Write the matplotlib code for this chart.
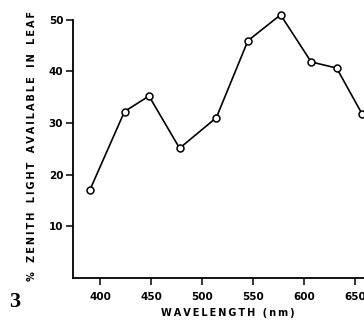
import matplotlib
matplotlib.use("Agg")
import matplotlib.pyplot as plt

wavelength = [390, 424, 448, 478, 514, 545, 577, 607, 632, 657]
zenith_pct = [17.0, 32.2, 35.2, 25.1, 31.0, 45.9, 50.9, 41.8, 40.6, 31.7]
x_ticks = [400, 450, 500, 550, 600, 650]
y_ticks = [10, 20, 30, 40, 50]
x_title = "WAVELENGTH (nm)"
y_title = "% ZENITH LIGHT AVAILABLE IN LEAF"


def spaced(s, gap=""):
    return "\u2009".join(s).replace(" ", " " + gap)


fig = plt.figure(figsize=(3.64, 3.2), dpi=100)
ax = fig.add_axes([73/364, 1-278/320, 1-73/364, (278-19.5)/320])
ax.plot(wavelength, zenith_pct, color="black", lw=1.2, marker="o", ms=5,
        mfc="white", mec="black", mew=1.1, clip_on=False, zorder=3)
ax.set_xlim(373.5, 658.8)
ax.set_ylim(0, 50)
ax.set_xticks(x_ticks)
ax.set_yticks(y_ticks)
ax.set_xticklabels([str(v) for v in x_ticks], fontsize=7.5, fontweight="bold")
ax.set_yticklabels([str(v) for v in y_ticks], fontsize=7.5, fontweight="bold")
ax.tick_params(direction="out", length=5, width=1.1, pad=2)
ax.tick_params(axis="x", pad=5)
for s in ["top", "right"]:
    ax.spines[s].set_visible(False)
for s in ["left", "bottom"]:
    ax.spines[s].set_linewidth(1.3)

fig.text(228/364, 1-313/320, spaced(x_title), ha="center", va="center",
         fontsize=7, fontweight="bold")
fig.text(32/364, 1-146/320, spaced(y_title, "\u2009"),
         rotation=90, ha="center", va="center", fontsize=7, fontweight="bold")
fig.text(15/364, 1-302/320, "3", ha="center", va="center", fontsize=16,
         fontweight="bold", family="Liberation Serif")

fig.savefig("out.png", dpi=100)
